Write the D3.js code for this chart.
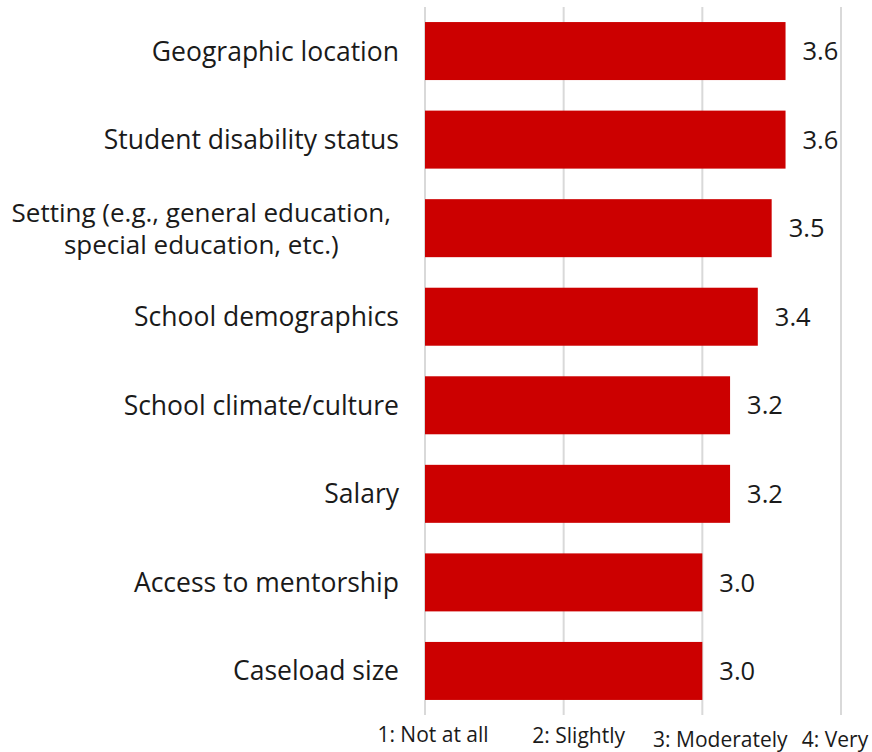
<!DOCTYPE html>
<html><head><meta charset="utf-8">
<script src="https://cdn.jsdelivr.net/npm/d3@7"></script>
<style>body{margin:0;background:#fff}svg{display:block}text{font-family:"Open Sans",sans-serif;fill:#1a1a1a}</style>
</head><body>
<svg id="c" width="872" height="752"></svg>
<script>
const categories = ["Geographic location","Student disability status","Setting (e.g., general education,|special education, etc.)","School demographics","School climate/culture","Salary","Access to mentorship","Caseload size"];
const values = [3.6,3.6,3.5,3.4,3.2,3.2,3.0,3.0];
const tickValues = [1,2,3,4];
const tickLabels = ["1: Not at all","2: Slightly","3: Moderately","4: Very"];

const svg = d3.select("#c");
const x = d3.scaleLinear().domain([1,4]).range([425,841]);
const y = d3.scaleBand().domain(categories).range([7,715]).paddingInner(0.345).paddingOuter(0.17);

svg.append("g").selectAll("line").data(tickValues).join("line")
  .attr("x1",d=>x(d)).attr("x2",d=>x(d)).attr("y1",7).attr("y2",715)
  .attr("stroke","#d9d9d9").attr("stroke-width",2);

svg.append("g").selectAll("rect").data(values).join("rect")
  .attr("x",x(1)).attr("y",(d,i)=>y(categories[i]))
  .attr("width",d=>x(d)-x(1)).attr("height",y.bandwidth())
  .attr("fill","#cc0000");

svg.append("g").selectAll("text").data(values).join("text")
  .attr("x",d=>x(d)+17).attr("y",(d,i)=>y(categories[i])+y.bandwidth()/2)
  .attr("dy","0.36em").attr("font-size",25.5).text(d=>d.toFixed(1));

const cl = svg.append("g");
categories.forEach((c,i)=>{
  const lines = c.split("|");
  const cy = y(c)+y.bandwidth()/2;
  const lh = 32;
  const t = cl.append("text").attr("font-size",26.5);
  lines.forEach((ln,j)=>{
    t.append("tspan").attr("x",399).attr("y",cy+(j-(lines.length-1)/2)*lh).attr("dy","0.36em").text(ln);
  });
  if(lines.length>1){
    t.attr("font-size",26);
    const spans = t.selectAll("tspan").nodes();
    const w = d3.max(spans,s=>s.getComputedTextLength());
    spans.forEach(s=>{d3.select(s).attr("x",391-w/2);});
    t.attr("text-anchor","middle");
  } else t.attr("text-anchor","end");
});

const tickDx = [8,15,18,-6];
const tickDy = [735,736,740,740];
svg.append("g").selectAll("text").data(tickValues).join("text")
  .attr("x",(d,i)=>x(d)+tickDx[i]).attr("y",(d,i)=>tickDy[i])
  .attr("text-anchor","middle").attr("dy","0.35em").attr("font-size",21)
  .text((d,i)=>tickLabels[i]);
</script>
</body></html>
